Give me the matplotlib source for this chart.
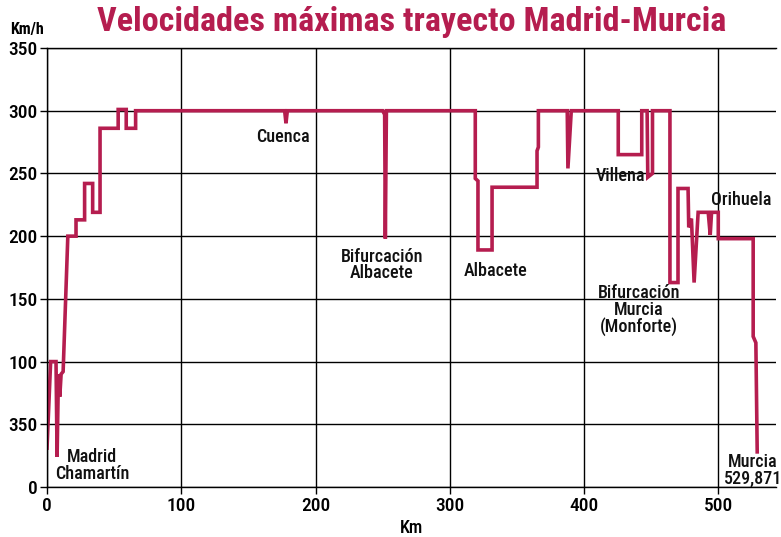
import matplotlib.pyplot as plt

# trayecto Madrid-Murcia: punto kilometrico y velocidad maxima
km = [0, 2.7, 6.7, 7.5, 8.5, 9.5, 10.5, 12, 15.5, 21.6, 21.6, 28, 28, 34, 34,
      39.5, 39.5, 53, 53, 59, 59, 66, 66, 177, 178, 179, 250, 251.5, 252, 252.8,
      319, 319, 321, 321, 331.5, 331.5, 365, 365, 366, 366, 387.5, 388, 390.5,
      425.5, 425.5, 443, 443, 447, 447.5, 451, 451, 464, 464, 470, 470, 477.5,
      478, 480, 482, 485, 492.5, 494, 495, 500, 500, 526, 526, 528, 529]
vel = [31, 100, 100, 24, 90, 72, 90, 92, 200, 200, 213, 213, 242, 242, 219,
       219, 286, 286, 301, 301, 286, 286, 300, 300, 290, 300, 300, 297, 198, 300,
       300, 246, 244, 189, 189, 239, 239, 268, 271, 300, 300, 254, 300,
       300, 265, 265, 300, 300, 247, 250, 300, 300, 163, 163, 238, 238,
       207, 214, 163, 219, 219, 201, 219, 219, 198, 198, 120, 115, 28]

yticks = [0, 50, 100, 150, 200, 250, 300, 350]
ytick_labels = ['0', '350', '100', '150', '200', '250', '300', '350']
xticks = [0, 100, 200, 300, 400, 500]

# etiquetas de estaciones (texto, km, velocidad)
etiquetas = [
    ('Madrid\nChamartín', 33.5, 17),
    ('Cuenca', 176, 279),
    ('Bifurcación\nAlbacete', 249.5, 177),
    ('Albacete', 334, 172),
    ('Villena', 427, 248),
    ('Orihuela', 517, 229),
    ('Bifurcación\nMurcia\n(Monforte)', 441, 141),
    ('Murcia\n529,871', 526, 13),
]

rojo = '#b51d4f'
fuente = ['Roboto Condensed', 'Liberation Sans Narrow', 'Roboto', 'DejaVu Sans']
plt.rcParams['font.family'] = fuente

fig = plt.figure(figsize=(7.81, 5.37), dpi=100)
ax = fig.add_axes([0.0602, 0.0931, 0.9334, 0.8175])

ax.set_xlim(0, 543)
ax.set_ylim(0, 350)
ax.set_xticks(xticks)
ax.set_yticks(yticks)
ax.set_yticklabels(ytick_labels)
ax.grid(True, color='black', linewidth=1.0)
ax.set_axisbelow(True)
ax.spines['right'].set_visible(False)
for s in ['left', 'bottom', 'top']:
    ax.spines[s].set_linewidth(1.0)
ax.tick_params(length=5, width=1, labelsize=14, pad=2)
for lab in ax.get_xticklabels() + ax.get_yticklabels():
    lab.set_fontweight('medium')

ax.plot(km, vel, color=rojo, linewidth=2.6, solid_joinstyle='miter')

for texto, x, y in etiquetas:
    ax.text(x, y, texto, ha='center', va='center', fontsize=13,
            fontweight='medium', color='#111111', linespacing=0.92, clip_on=False)

ax.set_xlabel('Km', fontsize=13, fontweight='medium', labelpad=3)
fig.text(0.013, 0.945, 'Km/h', fontsize=11.5, fontweight='bold', ha='left', va='center')
fig.text(0.527, 0.959, 'Velocidades máximas trayecto Madrid-Murcia', fontsize=24.6,
         fontweight='bold', color=rojo, ha='center', va='center')

fig.savefig('out.png', dpi=100)
